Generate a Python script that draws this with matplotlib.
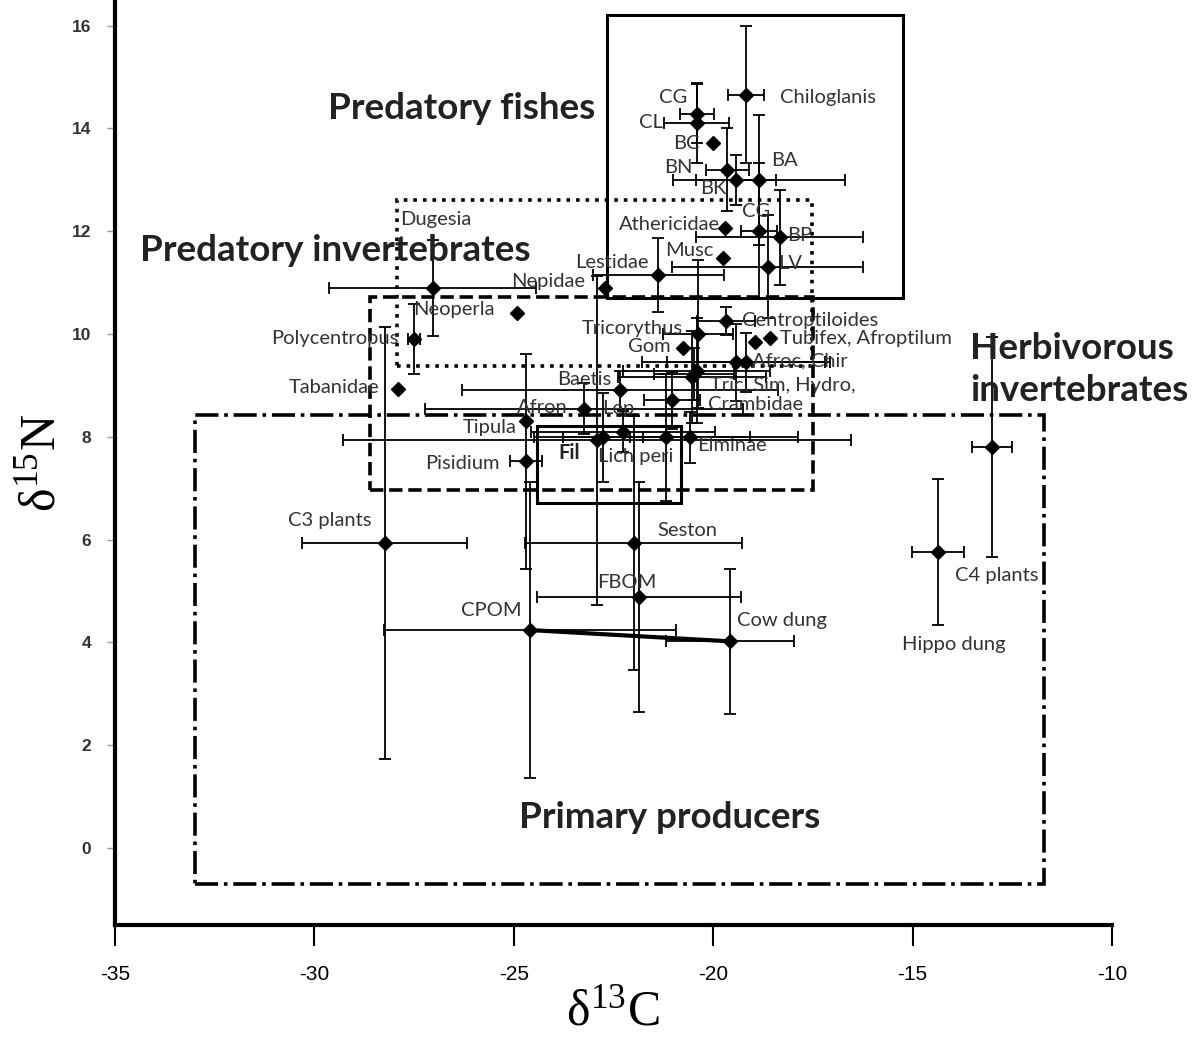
import matplotlib
matplotlib.use('Agg')
import matplotlib.pyplot as plt
from matplotlib.patches import Rectangle

plt.rcParams['mathtext.fontset'] = 'stix'
plt.rcParams['axes.unicode_minus'] = False

# --- data: mean d13C / d15N with error bars ---
taxa = ['Chiloglanis', 'CG', 'CL', 'BC', 'BN', 'BK', 'BA', 'CG2', 'BP', 'LV',
        'Athericidae', 'Musc', 'Lestidae', 'Nepidae', 'Dugesia', 'Neoperla',
        'Polycentropus', 'Tabanidae', 'Centroptiloides', 'Tricorythus', 'Gom',
        'Tubifex', 'Afroptilum', 'Afroc', 'Chir', 'Tric', 'Sim', 'Hydro',
        'Crambidae', 'Baetis', 'Afron', 'Lep', 'Tipula', 'Pisidium', 'Fil',
        'Lich', 'peri', 'Elminae', 'C3 plants', 'Seston', 'FBOM', 'CPOM',
        'Cow dung', 'C4 plants', 'Hippo dung']
d13c = [-19.18, -20.41, -20.41, -20.0, -19.65, -19.43, -18.85, -18.85, -18.33, -18.63,
        -19.7, -19.75, -21.38, -22.71, -27.03, -24.92,
        -27.5, -27.9, -19.68, -20.38, -20.76,
        -18.58, -18.95, -19.43, -19.18, -20.41, -20.53, -20.48,
        -21.03, -22.34, -23.24, -22.26, -24.7, -24.7, -22.91,
        -22.76, -21.18, -20.58, -28.23, -21.99, -21.86, -24.6,
        -19.58, -13.01, -14.36]
d15n = [14.66, 14.29, 14.11, 13.71, 13.2, 13.0, 13.0, 12.01, 11.88, 11.31,
        12.07, 11.47, 11.14, 10.89, 10.9, 10.4,
        9.9, 8.94, 10.26, 10.01, 9.72,
        9.93, 9.84, 9.45, 9.45, 9.29, 9.16, 9.22,
        8.71, 8.92, 8.55, 8.1, 8.3, 7.52, 7.93,
        7.99, 7.99, 7.99, 5.93, 5.93, 4.88, 4.24,
        4.02, 7.8, 5.75]
c_err = [0.45, 0.43, 0.81, 0, 0.54, 1.0, 2.15, 0.44, 2.1, 2.4,
         0, 0, 1.64, 0, 2.6, 0,
         0.15, 0, 0.73, 0.87, 0,
         0, 0, 2.36, 1.98, 1.84, 1.86, 1.0,
         0.7, 3.96, 3.99, 2.3, 0, 0.4, 6.37,
         1.0, 3.3, 1.5, 2.07, 2.72, 2.56, 3.66,
         1.6, 0.51, 0.66]
n_err = [1.33, 0.58, 0.78, 0, 0.8, 0.49, 1.27, 1.32, 0.92, 1.0,
         0, 0, 0.72, 0, 0.93, 0,
         0.68, 0, 0.27, 1.44, 0,
         0, 0, 0.75, 0.57, 1.03, 0.9, 0.5,
         0.56, 0.37, 0.5, 0.4, 0, 2.1, 3.2,
         0.86, 1.24, 0.5, 4.2, 2.47, 2.24, 2.88,
         1.41, 2.14, 1.42]

# point labels as printed on the chart
label_text = ['Chiloglanis', 'CG', 'CL', 'BC', 'BN', 'BK', 'BA', 'CG', 'Athericidae',
              'BP', 'Musc', 'LV', 'Lestidae', 'Nepidae', 'Dugesia', 'Neoperla',
              'Polycentropus', 'Tabanidae', 'Tricorythus', 'Gom', 'Centroptiloides',
              'Tubifex, Afroptilum', 'Afroc, Chir', 'Tric, Sim, Hydro,', 'Crambidae',
              'Baetis', 'Afron', 'Lep', 'Tipula', 'Pisidium', 'Lich peri', 'Elminae',
              'Seston', 'FBOM', 'Cow dung']
label_x = [-18.33, -20.66, -21.26, -20.33, -20.51, -20.33, -18.55, -19.28, -19.83,
           -18.15, -20.0, -18.37, -21.63, -23.21, -27.85, -27.53,
           -27.9, -28.36, -20.76, -21.06, -19.28,
           -18.33, -19.03, -20.08, -20.13,
           -22.54, -23.64, -22.79, -24.92, -25.35, -22.89, -20.41,
           -21.41, -22.91, -19.4]
label_y = [14.6, 14.6, 14.11, 13.7, 13.24, 12.83, 13.37, 12.38, 12.13,
           11.92, 11.63, 11.37, 11.39, 11.02, 12.23, 10.48,
           9.91, 8.96, 10.11, 9.76, 10.26,
           9.91, 9.47, 9.0, 8.63,
           9.12, 8.57, 8.55, 8.18, 7.48, 7.62, 7.83,
           6.18, 5.17, 4.43]
label_ha = ['left', 'right', 'right', 'right', 'right', 'left', 'left', 'left', 'right',
            'left', 'right', 'left', 'right', 'right', 'left', 'left',
            'right', 'right', 'right', 'right', 'left',
            'left', 'left', 'left', 'left',
            'right', 'right', 'left', 'right', 'right', 'left', 'left',
            'left', 'left', 'left']
center_text = ['C3 plants', 'CPOM', 'C4 plants', 'Hippo dung']
center_x = [-29.61, -25.57, -12.88, -13.96]
center_y = [6.38, 4.63, 5.31, 3.95]

# trophic group boxes: x0, x1, y0, y1
box_names = ['Predatory fishes', 'Predatory invertebrates', 'Herbivorous invertebrates',
             'Primary producers', 'Fil']
box_x0 = [-22.66, -27.93, -28.6, -32.99, -24.42]
box_x1 = [-15.24, -17.52, -17.5, -11.7, -20.81]
box_y0 = [10.71, 9.37, 6.96, -0.7, 6.71]
box_y1 = [16.21, 12.6, 10.73, 8.42, 8.22]
box_style = ['-', ':', '--', '-.', '-']

fig = plt.figure(figsize=(12, 10.47), dpi=100)
ax = fig.add_axes([0.0958, 0.1165, 0.8308, 0.8835])

for x0, x1, y0, y1, ls in zip(box_x0, box_x1, box_y0, box_y1, box_style):
    lw = 2.2 if ls == '-' else 2.6
    ax.add_patch(Rectangle((x0, y0), x1 - x0, y1 - y0, fill=False, ec='black',
                           lw=lw, ls=ls, zorder=1))

# CPOM -> cow dung connector
i_cp, i_cd = taxa.index('CPOM'), taxa.index('Cow dung')
ax.plot([d13c[i_cp], d13c[i_cd]], [d15n[i_cp], d15n[i_cd]], color='black', lw=3, zorder=3)

for x, y, ex, ey in zip(d13c, d15n, c_err, n_err):
    ax.errorbar(x, y, xerr=ex if ex > 0 else None, yerr=ey if ey > 0 else None,
                fmt='D', color='black', ms=7, elinewidth=1.3, capsize=4.5,
                capthick=1.3, zorder=4)

lab_font = dict(family='Lato', fontsize=14.5, color='#333333', va='center', zorder=5)
for t, x, y, ha in zip(label_text, label_x, label_y, label_ha):
    ax.text(x, y, t, ha=ha, **lab_font)
for t, x, y in zip(center_text, center_x, center_y):
    ax.text(x, y, t, ha='center', **lab_font)
ax.text(-23.87, 7.68, 'Fil', ha='left', va='center', family='Lato', fontsize=14.5,
        fontweight='bold', color='#222222', zorder=5)

big = dict(family='Lato', fontsize=26.5, fontweight='bold', color='#222222', zorder=6)
ax.text(-26.3, 14.39, 'Predatory fishes', ha='center', va='center', **big)
ax.text(-29.48, 11.63, 'Predatory invertebrates', ha='center', va='center', **big)
ax.text(-13.56, 9.31, 'Herbivorous\ninvertebrates', ha='left', va='center',
        linespacing=1.3, clip_on=False, **big)
ax.text(-21.08, 0.6, 'Primary producers', ha='center', va='center', **big)

ax.set_xlim(-35, -10)
ax.set_ylim(-1.5, 16.5)
ax.set_xticks(range(-35, -9, 5))
ax.set_yticks(range(0, 17, 2))
for s in ['top', 'right']:
    ax.spines[s].set_visible(False)
ax.spines['left'].set_linewidth(3)
ax.spines['bottom'].set_linewidth(3)
ax.tick_params(axis='x', direction='out', length=15, width=1.5, pad=14,
               labelsize=15)
ax.tick_params(axis='y', direction='out', length=6, width=1, color='#999999',
               pad=11, labelsize=12.5, labelcolor='#333333')
for lab in ax.get_xticklabels() + ax.get_yticklabels():
    lab.set_family('Liberation Sans')
for lab in ax.get_yticklabels():
    lab.set_fontweight('bold')

ax.set_xlabel('δ$^{\\mathregular{13}}$C', fontsize=36, family='Liberation Serif',
              labelpad=4)
ax.set_ylabel('δ$^{\\mathregular{15}}$N', fontsize=36, family='Liberation Serif',
              labelpad=4)

fig.savefig('out.png', dpi=100)
